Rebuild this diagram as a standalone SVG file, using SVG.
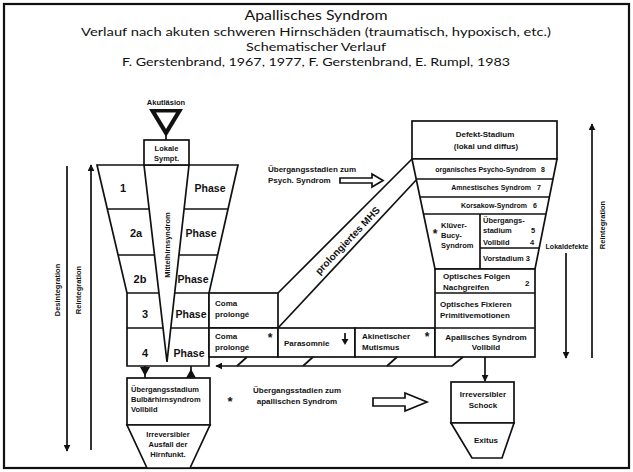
<svg xmlns="http://www.w3.org/2000/svg" width="633" height="472" viewBox="0 0 633 472">
<style>
.ln{stroke:#111;stroke-width:1.7;fill:none}
.bx{stroke:#111;stroke-width:1.7;fill:#fff}
.fl{fill:#111;stroke:none}
.t{font-family:"Liberation Sans",Arial,sans-serif;font-weight:bold;fill:#111}
.s7{font-size:7px}
.s75{font-size:7.5px}
.s8{font-size:8px}
.s10{font-size:10.5px}
.c{text-anchor:middle}
.e{text-anchor:end}
.ti{font-family:Lato,"Open Sans",sans-serif;fill:#111;text-anchor:middle}
</style>
<defs>
<marker id="ah" viewBox="0 0 10 10" refX="9" refY="5" markerWidth="7" markerHeight="7" markerUnits="userSpaceOnUse" orient="auto">
<path d="M0,0 L10,5 L0,10 z" fill="#111"/>
</marker>
</defs>
<rect x="0" y="0" width="633" height="472" fill="#fff"/>
<rect x="4" y="4" width="625" height="464" fill="none" stroke="#111" stroke-width="2.2"/>

<g id="title">
<text class="ti" x="316" y="20" font-size="14" textLength="143" lengthAdjust="spacingAndGlyphs">Apallisches Syndrom</text>
<text class="ti" x="316" y="36" font-size="12.3" textLength="470" lengthAdjust="spacingAndGlyphs">Verlauf nach akuten schweren Hirnschäden (traumatisch, hypoxisch, etc.)</text>
<text class="ti" x="316" y="51" font-size="12.3" textLength="140" lengthAdjust="spacingAndGlyphs">Schematischer Verlauf</text>
<text class="ti" x="316" y="66" font-size="12.3" textLength="388" lengthAdjust="spacingAndGlyphs">F. Gerstenbrand, 1967, 1977, F. Gerstenbrand, E. Rumpl, 1983</text>
</g>

<g id="akut">
<text class="t s75 c" x="166" y="105">Akutläsion</text>
<polygon class="fl" points="149,109 183,109 166,137"/>
<polygon fill="#fff" points="156,112.5 176,112.5 166,129"/>
<line class="ln" x1="166" y1="135" x2="166" y2="140"/>
</g>

<g id="funnel">
<polygon class="bx" points="97,165 238,165 209,293 209,366 127,366 127,293"/>
<line class="ln" x1="107.3" y1="209" x2="227.9" y2="209"/>
<line class="ln" x1="118.1" y1="255" x2="217.6" y2="255"/>
<line class="ln" x1="127" y1="293" x2="209" y2="293"/>
<line class="ln" x1="127" y1="328" x2="209" y2="328"/>
<polygon class="bx" points="144,165 189,165 167,362"/>
<text class="t" x="167" y="245" font-size="7.5" text-anchor="middle" transform="rotate(-90 170 245) translate(3 0)">Mittelhirnsyndrom</text>
<text class="t c" x="123" y="192" font-size="11">1</text>
<text class="t c s10" x="210" y="192">Phase</text>
<text class="t c" x="136" y="237" font-size="11">2a</text>
<text class="t c s10" x="201" y="237">Phase</text>
<text class="t c" x="140" y="283" font-size="11">2b</text>
<text class="t c s10" x="193" y="283">Phase</text>
<text class="t c" x="145" y="318" font-size="11">3</text>
<text class="t c s10" x="191" y="318">Phase</text>
<text class="t c" x="145" y="357" font-size="11">4</text>
<text class="t c s10" x="189" y="357">Phase</text>
</g>

<g id="lokale">
<rect class="bx" x="144" y="140" width="45" height="25"/>
<text class="t s75 c" x="166.5" y="151">Lokale</text>
<text class="t s75 c" x="166.5" y="161">Sympt.</text>
</g>

<g id="coma3">
<rect class="bx" x="209" y="293" width="69" height="35"/>
<text class="t s8" x="215" y="306">Coma</text>
<text class="t s8" x="215" y="317">prolongé</text>
</g>

<g id="coma4">
<rect class="bx" x="209" y="328" width="69" height="29"/>
<text class="t s8" x="215" y="339">Coma</text>
<text class="t s8" x="215" y="350">prolongé</text>
<text class="t c" x="270" y="342" font-size="12">*</text>
</g>

<g id="parasomnie">
<rect class="bx" x="278" y="328" width="77" height="29"/>
<text class="t s8" x="284" y="346">Parasomnie</text>
<line class="ln" x1="345" y1="333" x2="345" y2="340" stroke-width="1.4"/>
<polygon class="fl" points="341.5,339 348.5,339 345,345"/>
</g>

<g id="akinetisch">
<rect class="bx" x="355" y="328" width="80" height="29"/>
<text class="t s8" x="362" y="339">Akinetischer</text>
<text class="t s8" x="362" y="350">Mutismus</text>
<text class="t c" x="427" y="341" font-size="12">*</text>
</g>

<g id="defekt">
<rect class="bx" x="412" y="121" width="145" height="38"/>
<text class="t s8 c" x="485" y="137">Defekt-Stadium</text>
<text class="t s8 c" x="486" y="149">(lokal und diffus)</text>
</g>

<g id="psycho">
<polygon class="bx" points="412,159 557,159 535,269 435,269"/>
<line class="ln" x1="416.2" y1="179" x2="553" y2="179"/>
<line class="ln" x1="419.9" y1="197" x2="549.4" y2="197"/>
<line class="ln" x1="423.5" y1="214" x2="546" y2="214"/>
<line class="ln" x1="480" y1="214" x2="480" y2="269"/>
<line class="ln" x1="480" y1="248" x2="539.2" y2="248"/>
<text class="t s7 e" x="536" y="172">organisches Psycho-Syndrom</text>
<text class="t s7" x="541" y="172">8</text>
<text class="t s7 e" x="531" y="190">Amnestisches Syndrom</text>
<text class="t s7" x="537" y="190">7</text>
<text class="t s7 e" x="527" y="208">Korsakow-Syndrom</text>
<text class="t s7" x="533" y="208">6</text>
<text class="t c" x="435" y="238" font-size="12">*</text>
<text class="t s75" x="441" y="228">Klüver-</text>
<text class="t s75" x="441" y="238">Bucy-</text>
<text class="t s75" x="441" y="248">Syndrom</text>
<text class="t s75" x="483" y="223">Übergangs-</text>
<text class="t s75" x="483" y="233">stadium</text>
<text class="t s75" x="531" y="233">5</text>
<text class="t s75" x="483" y="245">Vollbild</text>
<text class="t s75" x="530" y="245">4</text>
<text class="t s75" x="483" y="261">Vorstadium 3</text>
</g>

<g id="optisch">
<rect class="bx" x="435" y="269" width="100" height="88"/>
<line class="ln" x1="435" y1="293" x2="535" y2="293"/>
<line class="ln" x1="435" y1="328" x2="535" y2="328"/>
<text class="t s8" x="443" y="279">Optisches Folgen</text>
<text class="t s8" x="443" y="290">Nachgreifen</text>
<text class="t s8" x="525" y="286">2</text>
<text class="t s8" x="440" y="307">Optisches Fixieren</text>
<text class="t s8" x="440" y="318">Primitivemotionen</text>
<text class="t s8 c" x="486" y="340">Apallisches Syndrom</text>
<text class="t s8 c" x="486" y="350">Vollbild</text>
</g>

<g id="uebergang">
<rect class="bx" x="127" y="378" width="83" height="47"/>
<text class="t s75" x="131" y="392">Übergangsstadium</text>
<text class="t s75" x="131" y="402">Bulbärhirnsyndrom</text>
<text class="t s75" x="131" y="412">Vollbild</text>
</g>

<g id="ausfall">
<polygon class="bx" points="127,425 210,425 190,468 147,468"/>
<text class="t s75 c" x="168" y="437">Irreversibler</text>
<text class="t s75 c" x="168" y="447">Ausfall der</text>
<text class="t s75 c" x="168" y="457">Hirnfunkt.</text>
</g>

<g id="schock">
<rect class="bx" x="451" y="382" width="63" height="41"/>
<text class="t s8 c" x="483" y="397">Irreversibler</text>
<text class="t s8 c" x="483" y="408">Schock</text>
</g>

<g id="exitus">
<polygon class="bx" points="451,423 514,423 502,458 472,458"/>
<text class="t s8 c" x="486" y="443">Exitus</text>
</g>

<g id="labels">
<text class="t s8" x="268" y="172">Übergangsstadien zum</text>
<text class="t s8" x="268" y="183">Psych. Syndrom</text>
<text class="t c" x="230" y="406" font-size="13">*</text>
<text class="t s8 c" x="297" y="393">Übergangsstadien zum</text>
<text class="t s8 c" x="297" y="404">apallischen Syndrom</text>
<text class="t s7 c" x="567" y="249">Lokaldefekte</text>
<text class="t s75 c" transform="translate(605 225) rotate(-90)">Reintegration</text>
<text class="t s75 c" transform="translate(60 290) rotate(-90)">Desintegration</text>
<text class="t s75 c" transform="translate(81 290) rotate(-90)">Reintegration</text>
</g>

<g id="connectors">
<line class="ln" x1="278" y1="293" x2="412" y2="159"/>
<line class="ln" x1="278" y1="328" x2="416.2" y2="180"/>
<text class="t c" font-size="10" transform="translate(350 243) rotate(-46.5)">prolongiertes MHS</text>
<polygon class="bx" stroke-width="1.5" points="340,178 372,178 372,174 383,180.5 372,187 372,183 340,183"/>
<polygon class="bx" stroke-width="1.5" points="373,398 405,398 405,393 427,402 405,411 405,406 373,406"/>
<polyline class="ln" points="463,357 452,366 216,366" marker-end="url(#ah)"/>
<line class="ln" x1="237" y1="366" x2="247" y2="357"/>
<line class="ln" x1="303" y1="366" x2="313" y2="357"/>
<line class="ln" x1="387" y1="366" x2="397" y2="357"/>
<line class="ln" x1="145" y1="366" x2="145" y2="378"/>
<polygon class="fl" points="140,367 150,367 145,376"/>
<line class="ln" x1="191" y1="366" x2="191" y2="378"/>
<polygon class="fl" points="186,378 196,378 191,369"/>
<line class="ln" x1="485" y1="357" x2="485" y2="381" marker-end="url(#ah)"/>
<line class="ln" x1="566" y1="253" x2="566" y2="358" marker-end="url(#ah)"/>
<line class="ln" x1="592" y1="358" x2="592" y2="124" marker-end="url(#ah)"/>
<line class="ln" x1="67" y1="166" x2="67" y2="451" marker-end="url(#ah)"/>
<line class="ln" x1="91" y1="450" x2="91" y2="165" marker-end="url(#ah)"/>
</g>
</svg>
